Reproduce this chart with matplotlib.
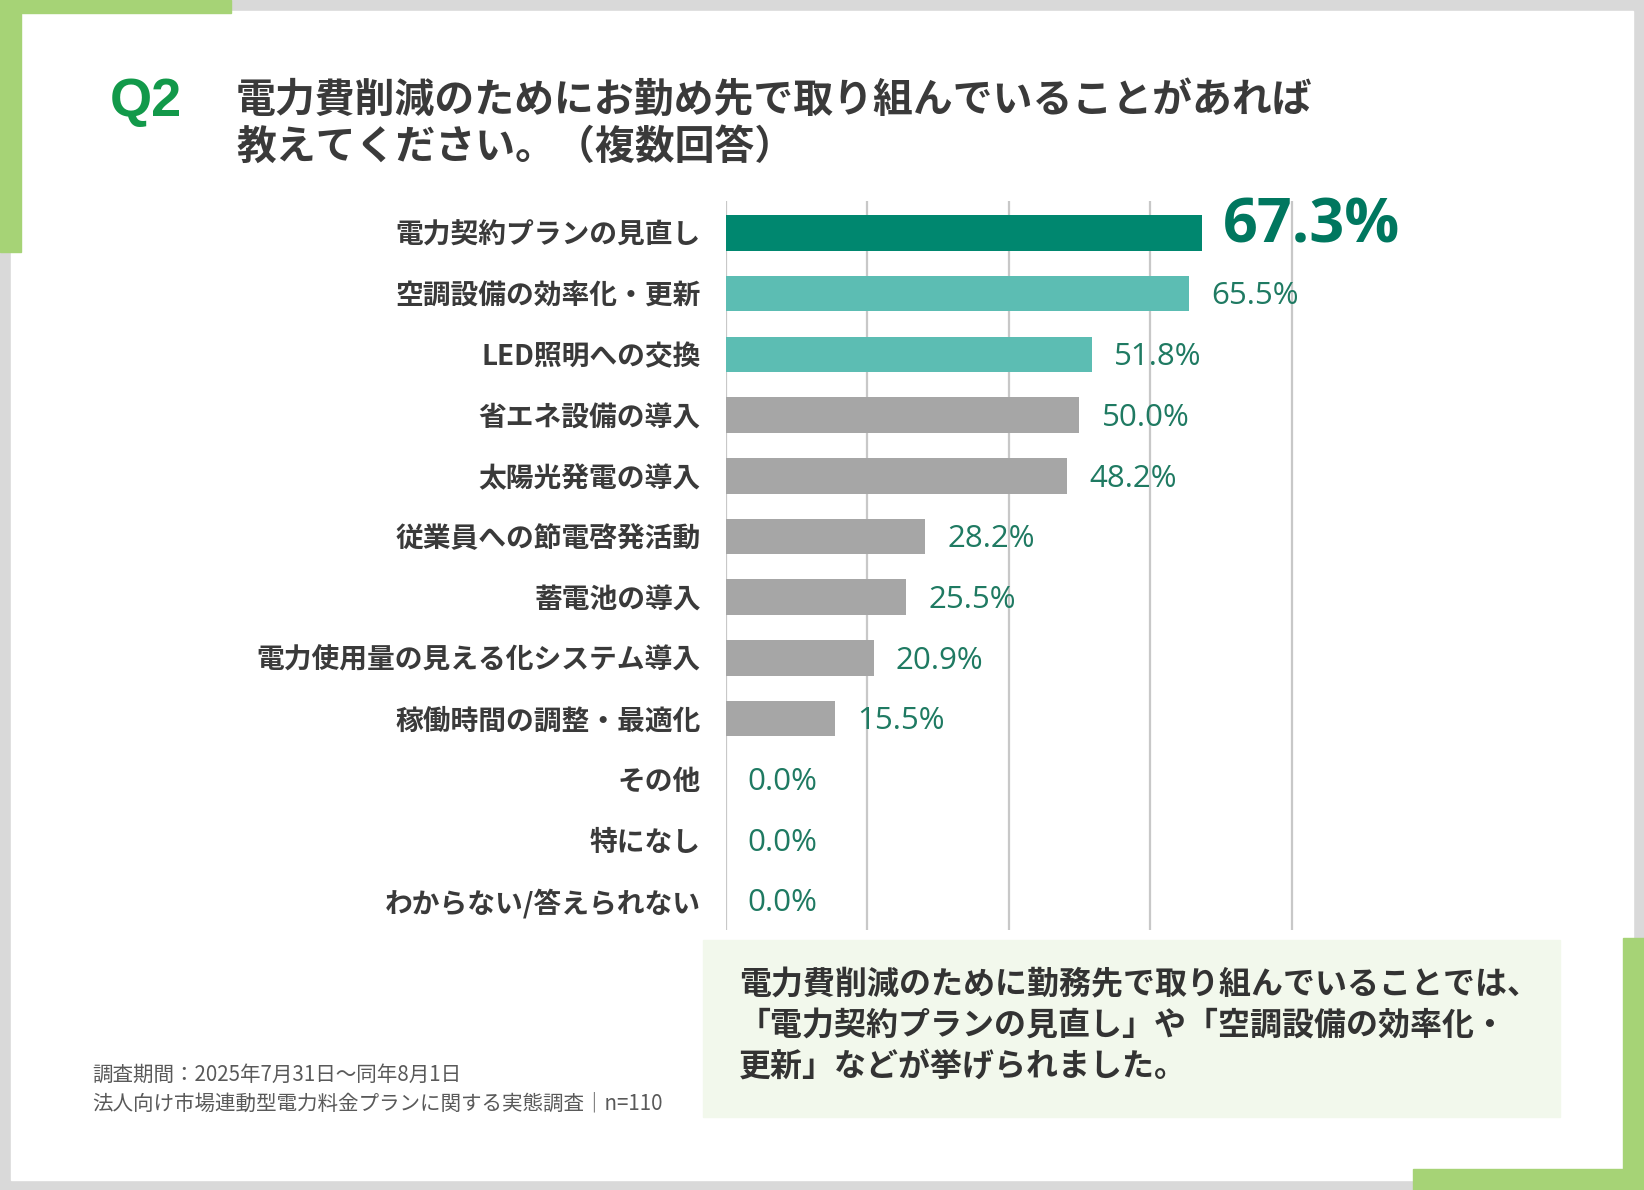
import matplotlib
matplotlib.use("Agg")
import matplotlib.pyplot as plt
import matplotlib.patches as mpatches

plt.rcParams['font.family'] = ['Noto Sans CJK JP', 'DejaVu Sans']

# data
categories = [
    "電力契約プランの見直し", "空調設備の効率化・更新", "LED照明への交換",
    "省エネ設備の導入", "太陽光発電の導入", "従業員への節電啓発活動",
    "蓄電池の導入", "電力使用量の見える化システム導入", "稼働時間の調整・最適化",
    "その他", "特になし", "わからない/答えられない",
]
values = [67.3, 65.5, 51.8, 50.0, 48.2, 28.2, 25.5, 20.9, 15.5, 0.0, 0.0, 0.0]
grid_ticks = [0, 20, 40, 60, 80]

title_lines = ["電力費削減のためにお勤め先で取り組んでいることがあれば",
               "教えてください。（複数回答）"]
summary_lines = ["電力費削減のために勤務先で取り組んでいることでは、",
                 "「電力契約プランの見直し」や「空調設備の効率化・",
                 "更新」などが挙げられました。"]
note_lines = ["調査期間：2025年7月31日〜同年8月1日",
              "法人向け市場連動型電力料金プランに関する実態調査｜n=110"]

W, H = 1644, 1190
fig = plt.figure(figsize=(W / 100, H / 100), dpi=100)
fig.patch.set_facecolor('#d9d9d9')

# background layer in pixel coordinates
bg = fig.add_axes([0, 0, 1, 1])
bg.set_xlim(0, W)
bg.set_ylim(H, 0)
bg.axis('off')

green_l = '#a6d376'
bg.add_patch(mpatches.Rectangle((10.5, 10.5), 1622, 1169, color='white', zorder=1))
bg.add_patch(mpatches.Rectangle((0, 0), 231, 12.6, color=green_l, zorder=2))
bg.add_patch(mpatches.Rectangle((0, 0), 21, 252, color=green_l, zorder=2))
bg.add_patch(mpatches.Rectangle((1623, 938), 21, 252, color=green_l, zorder=2))
bg.add_patch(mpatches.Rectangle((1413, 1169), 231, 21, color=green_l, zorder=2))

# header
bg.text(110, 102, "Q2", fontsize=39, fontweight='bold', color='#12994a',
        family=['Liberation Sans', 'DejaVu Sans'], va='center', ha='left', zorder=3)
for i, line in enumerate(title_lines):
    bg.text(236, 100 + 47 * i, line, fontsize=28.7, fontweight='bold',
            color='#3a3a3a', va='center', ha='left', zorder=3)

# summary box
bg.add_patch(mpatches.Rectangle((702.5, 939.5), 857, 177, color='#f2f8ec', zorder=2))
for i, line in enumerate(summary_lines):
    bg.text(739, 985 + 41 * i, line, fontsize=23, fontweight='bold',
            color='#333333', va='center', ha='left', zorder=3)

# footnote
for i, line in enumerate(note_lines):
    bg.text(92, 1075 + 28 * i, line, fontsize=14.8, color='#595959',
            va='center', ha='left', zorder=3)

# bar chart
px_per_unit = 7.077
x0_px = 725.6
xmax = 80.5
top_px, bot_px = 201, 930
first_c, step = 233, 60.7
ax = fig.add_axes([x0_px / W, (H - bot_px) / H, xmax * px_per_unit / W, (bot_px - top_px) / H])
ax.set_facecolor('none')

ypos = list(range(len(categories)))
bar_colors = ['#00876f'] + ['#5cbdb3'] * 2 + ['#a6a6a6'] * (len(values) - 3)
ax.barh(ypos, values, height=0.585, color=bar_colors, zorder=2)

ax.set_xlim(0, xmax)
ax.set_ylim((bot_px - first_c) / step, (top_px - first_c) / step)
ax.set_xticks(grid_ticks)
ax.xaxis.grid(True, color='#c8c8c8', linewidth=1.6)
ax.set_axisbelow(True)
ax.tick_params(axis='x', length=0, labelbottom=False)
ax.set_yticks(ypos)
ax.set_yticklabels(categories, fontsize=20, fontweight='bold', color='#3a3a3a')
ax.tick_params(axis='y', length=0, pad=18)
for s in ax.spines.values():
    s.set_visible(False)

for i, v in enumerate(values):
    if i == 0:
        ax.annotate(f"{v:.1f}%", (v, i), xytext=(15, 4), textcoords='offset points',
                    fontsize=44, fontweight='bold', color='#00775f',
                    family=['Open Sans', 'DejaVu Sans'], va='center', ha='left',
                    annotation_clip=False)
    else:
        ax.annotate(f"{v:.1f}%", (v, i), xytext=(16, -2), textcoords='offset points',
                    fontsize=22.5, color='#1f7a62',
                    family=['Open Sans', 'DejaVu Sans'], va='center', ha='left',
                    annotation_clip=False)

fig.savefig("out.png", dpi=100, facecolor=fig.get_facecolor())
